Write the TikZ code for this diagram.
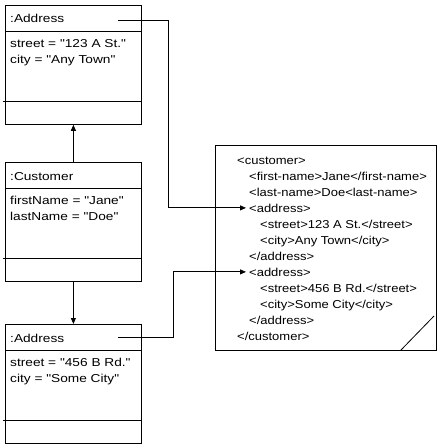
\documentclass[tikz,border=0pt]{standalone}
\usepackage{fontspec}
\setmainfont{Liberation Sans}[FakeStretch=1.19,Ligatures=TeXOff]
\newfontfamily\xmlfont{Liberation Sans}[FakeStretch=1.13,Ligatures=TeXOff]
\usepackage{tikz}
\usetikzlibrary{arrows.meta,calc}

\begin{document}
\begin{tikzpicture}[line join=miter,x=1pt,y=-1pt,font=\fontsize{11.5pt}{14pt}\selectfont,
    objbox/.style={draw,line width=0.8pt,anchor=north west,minimum width=136pt,minimum height=119pt,inner sep=0pt},
    notebox/.style={draw,line width=0.8pt,anchor=north west,minimum width=221pt,minimum height=205pt,inner sep=0pt},
    txt/.style={anchor=base west,inner sep=0pt},
    xmltxt/.style={txt,font=\xmlfont\fontsize{11.5pt}{14pt}\selectfont},
    link/.style={line width=0.8pt,-{Triangle[length=6pt,width=5pt]}}]
                \useasboundingbox (0,0) rectangle (440,447);
                % object boxes
                \node[objbox] (addrA) at (5,5) {};
                \node[objbox] (cust) at (5,162) {};
                \node[objbox] (addrB) at (5,324) {};
                \draw [line width=0.8pt] (5,31)-- (141,31);
                \draw [line width=0.8pt] (3,101)-- (141,101);
                \draw [line width=0.8pt] (5,188)-- (141,188);
                \draw [line width=0.8pt] (3,258)-- (141,258);
                \draw [line width=0.8pt] (5,350)-- (141,350);
                \draw [line width=0.8pt] (3,420)-- (141,420);
                % xml note
                \node[notebox] (xmlnote) at (215,145) {};
                \draw [line width=0.8pt] (401,350)-- (434,316);
                % texts
                \node[txt] (addrAname) at (10,23) {:Address};
                \node[txt] (addrAstreet) at (10,47) {street = "123 A St."};
                \node[txt] (addrAcity) at (10,63) {city = "Any Town"};
                \node[txt] (custname) at (10,180) {:Customer};
                \node[txt] (custfirst) at (10,204) {firstName = "Jane"};
                \node[txt] (custlast) at (10,220) {lastName = "Doe"};
                \node[txt] (addrBname) at (10,342) {:Address};
                \node[txt] (addrBstreet) at (10,366) {street = "456 B Rd."};
                \node[txt] (addrBcity) at (10,382) {city = "Some City"};
                \node[xmltxt] (xcust) at (237,164) {<customer>};
                \node[xmltxt] (xfirst) at (249,180) {<first-name>Jane</first-name>};
                \node[xmltxt] (xlast) at (249,196) {<last-name>Doe<last-name>};
                \node[xmltxt] (xaddrA) at (249,212) {<address>};
                \node[xmltxt] (xstreetA) at (260,228) {<street>123 A St.</street>};
                \node[xmltxt] (xcityA) at (260,244) {<city>Any Town</city>};
                \node[xmltxt] (xaddrAend) at (249,260) {</address>};
                \node[xmltxt] (xaddrB) at (249,276) {<address>};
                \node[xmltxt] (xstreetB) at (260,292) {<street>456 B Rd.</street>};
                \node[xmltxt] (xcityB) at (260,308) {<city>Some City</city>};
                \node[xmltxt] (xaddrBend) at (249,324) {</address>};
                \node[xmltxt] (xcustend) at (237,340) {</customer>};
                % connectors
                \coordinate (portA) at (118,20);
                \coordinate (portB) at (118,337);
                \draw [link] (cust.north)-- (addrA.south);
                \draw [link] (cust.south)-- (addrB.north);
                \draw [link] (portA)-- (168,20) |- ([xshift=-3pt]xaddrA.west);
                \draw [link] (portB)-- (173,337) |- ([xshift=-3pt]xaddrB.west);
\end{tikzpicture}
\end{document}
